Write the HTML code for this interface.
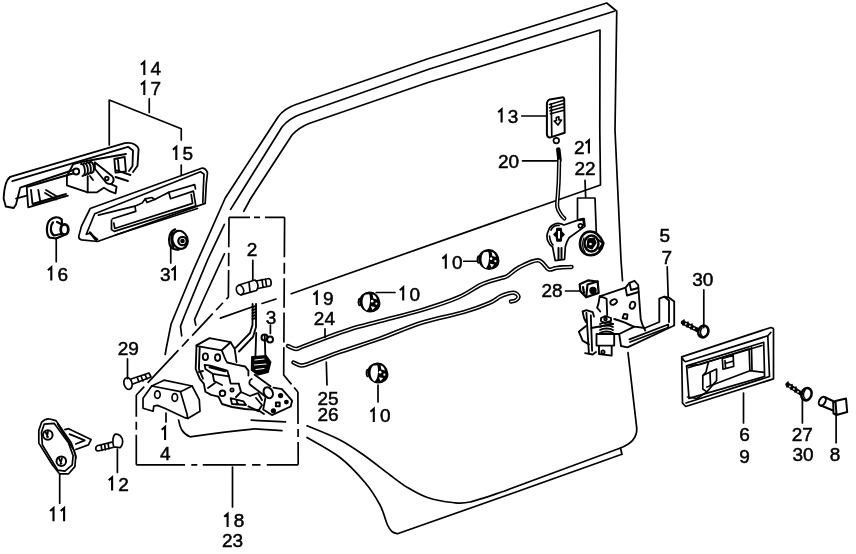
<!DOCTYPE html>
<html><head><meta charset="utf-8">
<style>
html,body{margin:0;padding:0;background:#fff;width:856px;height:554px;overflow:hidden}
svg{display:block;filter:grayscale(1)}
text{font-family:"Liberation Sans",sans-serif;font-size:19px;fill:#000;stroke:#000;stroke-width:0.5;text-anchor:middle}
</style></head>
<body>
<svg width="856" height="554" viewBox="0 0 856 554">
<rect width="856" height="554" fill="#fff"/>
<g fill="none" stroke="#000" stroke-width="1.7" stroke-linecap="round" stroke-linejoin="round">
<!-- door outer frame -->
<path d="M165.2,354.5 L166.4,347.5 L171.1,324 L193.4,270 L225.25,198 L278,117 Q284,108.5 296,104.5 L428,58.75 L606.75,3 L616.75,11.25 L615,130 L621,260 L622.5,280.8"/>
<path d="M628,352.7 L636.8,428.6 Q637,442 620.5,448 L621.9,454.3"/>
<!-- frame line 2 -->
<path d="M230.6,209.4 L237.75,198 L282,127 Q289,118.5 300,114.5 L428,69.5 L614.25,11.25"/>
<path d="M224.4,224.4 L208,259 L200,278.2 L184,317 L180.5,326.4 L181.7,335.8"/>
<!-- window inner -->
<path d="M243.75,211.25 L251,198 L292,135 Q299,127.5 309,123.5 L428,82.5 L600,30 L599.8,130 L600.5,185 L540,206.2 L291.25,293.75"/>
<path d="M224.4,253.8 L203.2,300 L194.6,319.3 L195.8,325.2"/>
<path d="M220.4,318.1 L252,307 M262,303.5 L276,299"/>
<!-- lower panel curves -->
<path d="M178.6,420.2 C180,428 182,433 190,436.8 C210,434 228,431.5 254.9,428.9 L282,430.7 M251.3,420.2 L285.5,421.9"/>
<path d="M307.0,425.8 C312.5,428.1 330.3,435.0 340.0,440.0 C349.7,445.0 356.7,450.2 365.0,456.0 C373.3,461.8 382.9,469.8 390.0,475.0 C397.1,480.2 401.2,483.8 407.5,487.5 C413.8,491.2 420.0,495.0 427.5,497.5 C435.0,500.0 445.4,501.8 452.5,502.5 C459.6,503.2 461.4,503.9 470.0,502.0 C478.6,500.1 498.3,493.0 504.0,491.2 L620.5,448"/>
<path d="M307.0,437.5 C312.5,440.8 330.3,450.0 340.0,457.5 C349.7,465.0 358.3,474.6 365.0,482.5 C371.7,490.4 376.2,497.9 380.0,505.0 C383.8,512.1 385.5,520.6 387.5,525.0 C389.5,529.4 390.3,530.0 392.0,531.5 C393.7,533.0 396.6,533.4 397.5,533.8 L504,496.25 L621.9,454.3"/>
<!-- dashed box -->
<path stroke-linecap="butt" stroke-dasharray="21,4,6,5,100" d="M229,217.3 L284.6,217.3"/>
<path stroke-linecap="butt" stroke-dasharray="40,5.5,11,4.4,29.6,4.8,30,4.6,40,4,100,0" d="M284.6,217.3 L283.7,375 L297.9,392"/>
<path stroke-linecap="butt" stroke-dasharray="32,5,8,5,60" d="M297.9,392 L298.2,464.8"/>
<path stroke-linecap="butt" stroke-dasharray="48.7,6.3,6,5.5,43,6.3,8.4,6.3,40" d="M136.3,464.8 L298.2,464.8"/>
<path stroke-linecap="butt" stroke-dasharray="30,5,8,5,40" d="M136.3,464.8 L136.3,395"/>
<path stroke-linecap="butt" stroke-dasharray="30,5.4,13.6,3.6,30,5,10,5,30,5,10,5,45,5,100,0" d="M229,217.3 L228.4,297 L136.3,395"/>
<!-- handle 14 -->
<g id="h14" stroke-width="1.85">
<path d="M10.1,176.9 L124.7,143.2 C131,142.3 136,143 138.6,149 L137.5,165.7 L133,172"/>
<path d="M10.1,176.9 C6,180 4,190 3.6,198.6 L5.8,206.5 L13.7,208 L16,204.4 L20.2,187.7 L73.3,170"/>
<path d="M12.3,181.2 L128,146.8 L133,150.5 L132.5,166 L129,171"/>
<path d="M26.7,187 L28.2,207.3 L67.9,195.7 M31,190 L32.5,204 L66,194 M26.7,187 L73,173.5"/>
<path d="M38.3,190 L40.5,203"/>
<path d="M16,198.6 L26.7,195.7 M46,190 L57,196.5 M45,193 L56,199.5"/>
<path d="M73.3,164 L80.8,162 L95,159.5 L114.3,156 L126,154 M73.3,164 L66.9,176.2 L66.9,185.4 L87.7,192.3 L97,192.3 L103.9,187.7 L109.7,191.2 L115.5,193.5 L116.6,186.6 L110.9,184.2"/>
<path d="M81,164 C85,163 86.5,175 82.5,176 M84,163.3 C88,162.5 89.5,174 85.5,175 M87,162.5 C91,162 92.5,173 88.5,174 M90,162 C94,161.5 95.5,172 91.5,173" stroke-width="1.9"/>
<circle cx="76.2" cy="171.5" r="3"/>
<path d="M94.7,162.3 L112,176 C116,181 111,187 106,182.5 L95,169 Z"/>
<circle cx="106.8" cy="178.5" r="1.8"/>
<path d="M114.3,158.8 L124.7,157 L125.9,171.5 L115.5,172.7 Z M118,160 L119,171"/>
<path d="M116.6,170.4 L130.5,175 M115.5,177 L128,181"/>
<path d="M87.7,176.2 L87.7,192.3 M90,176 L93,180"/>
</g>
<!-- handle 15 -->
<g id="h15">
<path d="M90.2,208.5 L201.6,168.2 C204,168 206.5,170 207.5,172.9 L206.3,183.5 L205.2,203.4 L97.5,241.5 L81.6,239.9 C79,239 78.5,237.5 78.8,236.1 L81.6,225.8 Z"/>
<path d="M86.3,234.3 L94.7,213.7 L200.5,171.7 L204,174.1 L203.4,187 L202.8,202.5 M86.3,234.3 L90,233.3 L97.5,239.5"/>
<path d="M90,232.5 L96,240" stroke-width="2.5"/>
<path d="M98.4,215.1 L134.9,206.2 L135.8,211.4 L112.4,218.8"/>
<path d="M111.5,220.2 L111.5,229.6 L114.3,231.4 L195.8,205.8 L193.4,191.1 L170.5,198.7 L168.8,192.3"/>
<path d="M113.8,223 L114.8,228.5 L192.6,203.4 L191.2,194.5"/>
<path d="M115.5,235 L197.5,208.5"/>
<path d="M134.9,206.2 L142.2,203 L145.3,198.8 L151.6,197.5 L154.7,199.5 L168.8,192.3 L194.6,184.6 L195.5,189"/>
<path d="M145.3,198.8 L147,202.5 L154.7,199.5"/>
</g>
<!-- clip 16 -->
<g id="c16" stroke-width="2.2">
<path d="M49.5,237.5 C46,234 46,224 50,220 C53,217 58,216 61.7,219.4 L62,223 M49.5,237.5 L56,238.5 L63.9,235.3"/>
<path d="M53,222.3 C50,226 50,233 54,235.5 L61,234"/>
<ellipse cx="64.5" cy="229.5" rx="3.8" ry="5.2" stroke-width="2.8"/>
<path d="M57,222 L62,224.5"/>
</g>
<!-- nut 31 -->
<g id="n31" stroke-width="2.2">
<path d="M175.2,229.4 C170,231 168,238 169.5,244 C170.5,248 174,250 178.8,249.6"/>
<path d="M172.5,233 C171,237 171.5,243 173.5,247"/>
<ellipse cx="180" cy="239.8" rx="7.5" ry="9.2" transform="rotate(-20 180 239.8)"/>
<circle cx="182.5" cy="241" r="4.2"/>
<circle cx="182.5" cy="241" r="1.2"/>
</g>
<!-- latch mechanism 18/23 -->
<g id="latch" stroke-width="1.85">
<path d="M196.5,345.4 L209.5,338.1 L230.6,342.2 L234.6,348.7 L235.5,354.4 L236.5,362"/>
<path d="M197.3,346.2 L221.7,350.3 L230.6,342.2 M221.7,350.3 C224,355 225,360 227.3,362.5 L237.1,364.9 L245.2,366.5 L248.4,370.6 L248.4,375.5"/>
<path d="M196.5,345.4 L195.7,369 L199.7,378.7 L203.8,383.6 L205.4,391.7 L211.1,394.9 L218.4,396.6"/>
<path d="M199.7,347.9 L198.9,369 L203,378.7"/>
<ellipse cx="205.4" cy="356.8" rx="2.6" ry="3.4"/>
<ellipse cx="217.6" cy="357.6" rx="2.6" ry="3.4"/>
<path d="M204.6,364.9 L210.3,365.7 L227.3,370.6 L229,376.3 L212.7,373.8 L205.4,369 Z M209.5,367.3 L224.9,371.4"/>
<path d="M229,376.3 L230.6,383.6 L238.7,383.6 M212.7,373.8 L214,381 L222,385"/>
<path d="M235.5,347.9 L250,333 L252.5,325 L252.6,304 M239,351.5 L253,337 L256,327 L256,304"/>
<path d="M252.5,307 L256,306 M252.5,310 L256,309 M252.5,313 L256,312 M252.5,316 L256,315 M252.5,319 L256,318"/>
<path d="M256.2,333 L255.3,360.2 M264.7,336 L265.4,357.3"/>
<circle cx="264.5" cy="337.5" r="3" stroke-width="2"/>
<circle cx="270" cy="339.5" r="3" stroke-width="2"/>
<path d="M252,357 L266,355.9 L270.5,362 L268,372 L258,374.7 L251.7,370 Z" fill="#000"/>
<path d="M255,360 L264,359 M254.5,365 L266,364 M256,369.5 L264,368.5" stroke="#fff" stroke-width="1.2"/>
<path d="M254.6,374.7 L270.5,386.2 M250.2,384.8 L265.4,396.4 M251.7,379 C249,380 249,384 250.2,384.8"/>
<ellipse cx="268.3" cy="392.7" rx="4.3" ry="5.8" transform="rotate(-30 268.3 392.7)" stroke-width="2"/>
<path d="M273.4,387.7 L282,389.1 L292.1,400.7 L290.7,406.5 L271.9,415.1 L263.2,409.4 L265.4,398"/>
<circle cx="280.6" cy="395.6" r="1.7" fill="#000"/><circle cx="286.4" cy="402.1" r="1.5" fill="#000"/><circle cx="273.4" cy="410.8" r="1.7" fill="#000"/>
<rect x="275.9" y="402.5" width="3.8" height="3.8" stroke-width="2"/>
<circle cx="222.5" cy="393.3" r="2.8"/>
<path d="M218.4,396.6 L222,404 L232,407 L245,409 L258,410 L264,414"/>
<path d="M230.6,398.2 L243.6,401.4 L246,405 L232,404 Z M236,399.5 L238,404.5"/>
<path d="M238.7,383.6 L241,392 L250,396 L258,393 L262,400 M241,392 L236,397"/>
<path d="M248.4,406.3 L258.2,411.2 L262,405 L256,398"/>
<circle cx="232" cy="390" r="1.6"/>
<path d="M208,388 L215,383 M199,372 L203,371"/>
</g>
<!-- block 1/4 -->
<g id="blk">
<path d="M151.7,386 L164,380.2 L192.1,386 L180.5,391.7 Z"/>
<path d="M151.7,386 L143,398.2 L143,408.3 L153.1,411.2 L153.8,406.2 L157.4,405.4 L164.7,408.3 L184.9,417.7 L187.8,418.4 L200,411.2 L199.3,399.7 L192.1,386"/>
<path d="M180.5,391.7 L187,414.1 L187.8,418.4"/>
<ellipse cx="157.4" cy="394.6" rx="2.8" ry="3.8"/>
<ellipse cx="174.8" cy="397.5" rx="2.8" ry="3.8"/>
</g>
<!-- screw 29 -->
<g id="s29">
<ellipse cx="128" cy="383.5" rx="4" ry="6" transform="rotate(-15 128 383.5)"/>
<path d="M131,379 L149,373 L151,377 L133,384 M137,377 L139,382 M141,376 L143,381 M145,374.5 L147,379"/>
</g>
<!-- striker 11 -->
<g id="st11">
<path d="M41.5,422.4 C44,419.5 46,418.8 48.7,418.8 L55.9,420.6 L71.3,443.1 L75.8,455.8 L74.9,466.6 L68.6,473.8 L59.5,473.8 L52.3,464.8 L38.8,443.1 L38.8,430.5 Z"/>
<path d="M44.2,424.2 L54.1,423.3 L68.6,443.1 L73.1,455.8 L72.2,464.8 L64.9,471.1 L57.7,470.2 L42.4,445 L41.5,432.3 Z"/>
<path d="M57.7,424.2 L74,450.4 L76,458"/>
<circle cx="47.8" cy="435" r="4.8" stroke-width="2"/>
<path d="M45.5,432 L48,437 M48,431.5 L47,437"/>
<circle cx="61.3" cy="461.2" r="4.8" stroke-width="2"/>
<path d="M59,458.5 L61.5,463.5 M62,458 L60.5,464"/>
<path d="M64.9,429.6 L68.6,428.7 L91.1,439.5 L88.4,444.9 L75.8,449.5 M69.5,434.1 L84.8,440.4 L75.8,444"/>
</g>
<!-- bolt 12 -->
<g id="b12">
<path d="M113.7,446.8 C112,442 113,435 115.5,434.1 C119,433.5 122.5,437 122.7,441.3 C122.5,444.5 121,447 120,447.7 Z"/>
<path d="M112,442.2 L98,445.5 C95,446.5 95,450.5 98,451 L113,447.5 M101,444.8 L102,450.5 M104.5,444 L105.5,449.8 M108,443.2 L109,449"/>
</g>
<!-- bolt 2 -->
<g id="b2" transform="translate(-1,2.5)">
<ellipse cx="241" cy="287.5" rx="3.5" ry="4.8" transform="rotate(-20 241 287.5)"/>
<path d="M240,282.5 L256,277.5 C259,279 260,285 257.5,288 L242,292.4"/>
<path d="M257,278.5 L270,276 C272.5,277 273,282 271,283.5 L259,286 M263,277 L264,284.5 M266.5,276.5 L267.5,283.5"/>
<path d="M250,280 L251,289"/>
</g>
<!-- rods 19/24 and 25/26 -->
<path d="M288.0,346.0 C289.3,346.5 293.5,348.9 296.0,349.0 C298.5,349.1 297.8,348.4 303.0,346.5 C308.2,344.6 319.2,340.4 327.0,337.5 C334.8,334.6 341.2,332.0 350.0,329.3 C358.8,326.6 368.0,324.4 380.0,321.2 C392.0,318.0 408.9,314.0 422.0,310.0 C435.1,306.0 448.7,301.5 458.5,297.3 C468.3,293.1 474.1,287.9 481.0,284.7 C487.9,281.5 495.7,279.8 500.0,278.4 C504.3,277.0 503.8,278.0 507.0,276.2 C510.2,274.4 514.1,269.9 519.3,267.3 C524.5,264.7 533.1,260.0 538.0,260.3 C542.9,260.6 545.7,268.0 548.5,269.3 C551.3,270.6 552.8,268.5 555.0,268.2 C557.2,267.9 559.2,267.5 562.0,267.3 C564.8,267.1 569.9,267.1 571.5,267.0" stroke-width="4.4"/>
<path d="M288.0,346.0 C289.3,346.5 293.5,348.9 296.0,349.0 C298.5,349.1 297.8,348.4 303.0,346.5 C308.2,344.6 319.2,340.4 327.0,337.5 C334.8,334.6 341.2,332.0 350.0,329.3 C358.8,326.6 368.0,324.4 380.0,321.2 C392.0,318.0 408.9,314.0 422.0,310.0 C435.1,306.0 448.7,301.5 458.5,297.3 C468.3,293.1 474.1,287.9 481.0,284.7 C487.9,281.5 495.7,279.8 500.0,278.4 C504.3,277.0 503.8,278.0 507.0,276.2 C510.2,274.4 514.1,269.9 519.3,267.3 C524.5,264.7 533.1,260.0 538.0,260.3 C542.9,260.6 545.7,268.0 548.5,269.3 C551.3,270.6 552.8,268.5 555.0,268.2 C557.2,267.9 559.2,267.5 562.0,267.3 C564.8,267.1 569.9,267.1 571.5,267.0" stroke="#fff" stroke-width="1.3"/>
<path d="M293.5,362.5 C294.8,363.0 298.4,365.3 301.0,365.5 C303.6,365.7 303.0,365.7 309.2,363.5 C315.4,361.3 326.6,356.7 338.4,352.5 C350.2,348.3 366.1,343.5 380.0,338.5 C393.9,333.5 408.0,327.0 422.0,322.6 C436.0,318.2 452.9,315.3 464.1,312.0 C475.3,308.7 483.4,305.6 489.4,303.0 C495.4,300.4 496.9,298.2 500.0,296.6 C503.1,295.0 505.6,294.2 508.0,293.6 C510.4,293.0 512.8,292.3 514.5,292.8 C516.2,293.3 518.3,295.2 518.5,296.5 C518.7,297.8 516.8,299.7 515.5,300.5 C514.2,301.3 511.8,301.3 511.0,301.5" stroke-width="4.4"/>
<path d="M293.5,362.5 C294.8,363.0 298.4,365.3 301.0,365.5 C303.6,365.7 303.0,365.7 309.2,363.5 C315.4,361.3 326.6,356.7 338.4,352.5 C350.2,348.3 366.1,343.5 380.0,338.5 C393.9,333.5 408.0,327.0 422.0,322.6 C436.0,318.2 452.9,315.3 464.1,312.0 C475.3,308.7 483.4,305.6 489.4,303.0 C495.4,300.4 496.9,298.2 500.0,296.6 C503.1,295.0 505.6,294.2 508.0,293.6 C510.4,293.0 512.8,292.3 514.5,292.8 C516.2,293.3 518.3,295.2 518.5,296.5 C518.7,297.8 516.8,299.7 515.5,300.5 C514.2,301.3 511.8,301.3 511.0,301.5" stroke="#fff" stroke-width="1.3"/>
<!-- clips 10 -->
<g id="c10a" transform="translate(370,302) scale(0.85)"><g>
<path d="M-12,0 C-12,-7 -7,-11 -1,-11.5 C6,-12 11,-6 11.5,1 C12,7 7,11.5 0,11.5 C-6,11.5 -11,7 -12,0 Z" fill="#000" stroke-width="1.5"/>
<path d="M-6,-8.5 C-10,-4 -10,6 -4,10 C0,8 1,-5 -1,-9 Z" fill="#fff" stroke="none"/>
<path d="M3,-9 C6,-8 8,-5 8,-3 L4,-4 Z" fill="#fff" stroke="none"/>
<circle cx="2.5" cy="-1" r="1.6" fill="#fff" stroke="none"/>
<circle cx="7.5" cy="2" r="1.3" fill="#fff" stroke="none"/>
<path d="M1,5 L6,6 L3,9.5 Z" fill="#fff" stroke="none"/>
<path d="M-12.5,-4 C-14,-2 -14,2 -12.5,4" stroke-width="2"/>
</g></g>
<g transform="translate(489,259.5) scale(0.85)">
<path d="M-12,0 C-12,-7 -7,-11 -1,-11.5 C6,-12 11,-6 11.5,1 C12,7 7,11.5 0,11.5 C-6,11.5 -11,7 -12,0 Z" fill="#000" stroke-width="1.5"/>
<path d="M-6,-8.5 C-10,-4 -10,6 -4,10 C0,8 1,-5 -1,-9 Z" fill="#fff" stroke="none"/>
<path d="M3,-9 C6,-8 8,-5 8,-3 L4,-4 Z" fill="#fff" stroke="none"/>
<circle cx="2.5" cy="-1" r="1.6" fill="#fff" stroke="none"/>
<circle cx="7.5" cy="2" r="1.3" fill="#fff" stroke="none"/>
<path d="M1,5 L6,6 L3,9.5 Z" fill="#fff" stroke="none"/>
<path d="M-12.5,-4 C-14,-2 -14,2 -12.5,4" stroke-width="2"/>
</g>
<g transform="translate(378,373) scale(0.85)">
<path d="M-12,0 C-12,-7 -7,-11 -1,-11.5 C6,-12 11,-6 11.5,1 C12,7 7,11.5 0,11.5 C-6,11.5 -11,7 -12,0 Z" fill="#000" stroke-width="1.5"/>
<path d="M-6,-8.5 C-10,-4 -10,6 -4,10 C0,8 1,-5 -1,-9 Z" fill="#fff" stroke="none"/>
<path d="M3,-9 C6,-8 8,-5 8,-3 L4,-4 Z" fill="#fff" stroke="none"/>
<circle cx="2.5" cy="-1" r="1.6" fill="#fff" stroke="none"/>
<circle cx="7.5" cy="2" r="1.3" fill="#fff" stroke="none"/>
<path d="M1,5 L6,6 L3,9.5 Z" fill="#fff" stroke="none"/>
<path d="M-12.5,-4 C-14,-2 -14,2 -12.5,4" stroke-width="2"/>
</g>
<!-- knob 13 -->
<g id="k13">
<path d="M546.9,102.9 C547.5,100.5 548.5,99.8 549.8,99.4 L561.7,97.4 C563,97.2 564,97.8 564.2,98.9 L564.7,132.7 L549.8,137.6 C548,137.5 547,136 546.9,133.7 Z" stroke-width="2"/>
<path d="M551.3,103.9 L551.8,136.6"/>
<path d="M549.5,104.5 L563,100.5 M549.5,107.8 L563.5,103.8 M550,110.8 L563.8,107 M550.5,113.8 L564,110.3"/>
<path d="M556.3,117.5 L558.8,116.8 L559,120 L561.5,120 L558,125 L554.2,121 L556.5,120.5 Z"/>
<circle cx="556.3" cy="140.6" r="2.8"/>
</g>
<!-- rod 20 -->
<path d="M558.3,149.5 L559.5,160" stroke-width="4.5"/>
<path d="M559.2,160.0 C559.1,163.4 558.9,175.1 558.7,180.7 C558.5,186.3 558.1,189.3 557.9,193.7 C557.7,198.1 556.8,203.5 557.3,207.0 C557.8,210.5 559.9,212.9 561.1,214.8 C562.3,216.7 563.9,217.9 564.4,218.5" stroke-width="4.2"/>
<path d="M559.2,160.0 C559.1,163.4 558.9,175.1 558.7,180.7 C558.5,186.3 558.1,189.3 557.9,193.7 C557.7,198.1 556.8,203.5 557.3,207.0 C557.8,210.5 559.9,212.9 561.1,214.8 C562.3,216.7 563.9,217.9 564.4,218.5" stroke="#fff" stroke-width="1.2"/>
<!-- bellcrank 21/22 -->
<g id="bc">
<path d="M549.5,228 C553,223 559,222 564,225 L577.9,220.1 L584.2,218.8 L584.9,226.4 L569.1,237.8 C567,241 566,244 565.3,247 L564.6,259.3 L555.2,260.6 L552.6,247 C548,244 546,238 547.5,233 Z"/>
<path d="M551,230 C553,226 556,225 559,225.5 M549.5,236 C550,240 551,243 553,245" />
<path d="M557,228.5 L561,228.5 L561.5,232 L564,234.5 L561.5,237 L561,241 L557,241 L556.5,237 L554,234.5 L556.5,232 Z" fill="#000"/>
<path d="M558,231 L560,231 L560,238.5 L558,238.5 Z" fill="#fff" stroke="none"/>
<circle cx="580.4" cy="225.8" r="2"/>
<path d="M558.5,248 L558.5,259.5 M561.5,248 L561.5,259" stroke-width="2"/>
<path d="M579,220 L583.5,219 L584,225" stroke-width="2.4"/>
</g>
<g id="nut22">
<path d="M580,244 C580,236 585,231.5 590,231.5 C597,231.5 601,237 603.4,243.3 C602,250 597,255.3 590.8,255.3 C584,255.3 580,250 580,244 Z" stroke-width="2.6"/>
<path d="M584,238 C582,242 582,248 585,252" stroke-width="1.3"/>
<ellipse cx="591.5" cy="243.5" rx="7" ry="8" stroke-width="2.4"/>
<path d="M588,239 L594,238 L596,243 L592,249 L587,247 Z" fill="#000" stroke-width="1.2"/>
<circle cx="590.5" cy="244" r="1.3" fill="#fff" stroke="none"/>
<path d="M598.5,240 L603,243.3 L599,249" stroke-width="2"/>
</g>
<!-- nut 28 -->
<g id="n28" stroke-width="2.2">
<path d="M579.7,284.2 L587.9,280.4 L597.6,281.5 L598.7,292.9 L586.2,297.2 L580.3,291.2 Z"/>
<path d="M587.5,284.5 L597.6,281.5 M587.5,284.5 L586.2,297.2 M583,287 L584,293"/>
<circle cx="593" cy="290.5" r="2.6" fill="#000"/>
</g>
<!-- latch 5/7 -->
<g id="l57" stroke-width="1.85">
<path d="M599.7,296.3 L625.5,287.7 L629.5,282.8 L634.5,280.8 L638.2,285 L640.7,319 C642,325 644,328 645.2,330.5"/>
<path d="M629.5,282.8 L631,290 L638,288 M625.5,287.7 L627,295.5 L638.5,292"/>
<path d="M599.7,296.3 L604.1,297.6 L606.6,298.8 L607.2,315.3 M599.7,296.3 L598.4,303.9 L597.1,307.7 L600.3,311.5"/>
<ellipse cx="613.6" cy="302" rx="3.5" ry="2.4" transform="rotate(-30 613.6 302)"/>
<ellipse cx="632.5" cy="305.2" rx="2.6" ry="3.6" transform="rotate(20 632.5 305.2)"/>
<path d="M622.5,318 L624,314 L627.5,314.5 L627,319 Z"/>
<path d="M614.2,319 C618,320 622,321.5 625.6,322.9 C629,324.5 632,326 634.4,326.7 L645,328"/>
<path d="M659.3,298.7 L664.3,296.7 L669.2,297.7 L674.2,301.6 L674.2,325.5 L627.5,347.3 L621,346 L619.2,334 L634.4,326.7 M645,328 L659.3,322 L659.3,298.7"/>
<path d="M664.3,296.7 L669,300.5 L669,322 M629.4,339.4 L668.2,324.5 L668.2,327.5 L630,342"/>
<path d="M582.6,311.5 L586.4,310.2 L592.7,312.1 L594,316.5 M586.4,312.8 L588.9,353.2 M590.8,315.3 L592.1,350.7 M582.6,311.5 L584,318 L586,322"/>
<path d="M585.1,353.2 L592.7,354.5 L596,352 M578.8,331.7 L582.6,340.6 L588.9,344.4 M578.8,331.7 L586,326"/>
<path d="M601,318 L605.3,316 L611,318 L611,321 L605,323 L601,321 Z"/>
<circle cx="605.5" cy="319" r="1.3"/>
<path d="M600,324 C603,322 610,322 613,324 M600,327 C603,325 610,325 613,327 M600,330 C603,328 610,328 613,330 M600,333 C603,331 610,331 613,333"/>
<path d="M596.5,334 L614.2,334 L614.2,345.6 L596.5,345.6 Z M599,345.6 L599,354 L611.7,355.7 L611.7,345.6"/>
<path d="M591.4,328 L613,324 M614.2,334 L619.2,334"/>
<circle cx="603" cy="352" r="1.6"/>
</g>
<!-- screw 30 top -->
<g id="s30a">
<path d="M683,322.5 L697.5,330" stroke-width="4.5"/>
<circle cx="686" cy="324" r="0.9" fill="#fff" stroke="none"/><circle cx="690" cy="326.2" r="0.9" fill="#fff" stroke="none"/><circle cx="694" cy="328.3" r="0.9" fill="#fff" stroke="none"/>
<path d="M684,320 L683,325 M688,322 L687,327 M692,324 L691,329" stroke-width="1.6"/>
<ellipse cx="703.3" cy="331.5" rx="5" ry="6" transform="rotate(20 703.3 331.5)" stroke-width="2.6"/>
<path d="M702,328 C700,330.5 700,334 702,335.5" stroke-width="1.4"/>
</g>
<!-- inner handle 6/9 -->
<g id="ih">
<path d="M681.7,356.9 L770.2,327.7 C772,327.5 773.5,328 773.5,329.3 L773.5,378.9 L685.7,406.5 L682.5,403.2 Z"/>
<path d="M682.5,358.5 C683.5,360.5 684.5,361.5 685.4,361.8 L767.8,335.8 L770.8,332.5 M767.8,335.8 L769.5,376.5 L686,403"/>
<path d="M686.6,365.9 L763.7,342.3 L764.6,376.4 L689,398.4 Z"/>
<path d="M688.2,367.7 L762,345.5"/>
<path d="M708.5,361.8 L749.1,348.8 L749.9,370.7 M751.5,347.5 L752,370 M749.9,370.7 L706.9,387 M763.7,372.4 L749.9,370.7"/>
<path d="M686.6,365.9 L700,364.5 L708.5,361.8 L706,372 L702.8,375.6"/>
<path d="M722.3,358.5 L733.2,355.5 L733.7,366.5 L723,369.1 Z M725,360.5 L725.5,367.5 M725,363.5 L733.5,361"/>
<path d="M702.8,375.6 L716.6,369.1 L716.6,380.5 L706.9,391.9 L702.8,389 Z M710,372.5 L710.5,385"/>
<path d="M687.5,397 L697,398.5 L706.9,391.9"/>
</g>
<!-- screw 27/30 -->
<g id="s27">
<path d="M787.5,384.5 L801,393.5" stroke-width="4.5"/>
<circle cx="790" cy="386.5" r="0.9" fill="#fff" stroke="none"/><circle cx="794" cy="389" r="0.9" fill="#fff" stroke="none"/><circle cx="798" cy="391.8" r="0.9" fill="#fff" stroke="none"/>
<path d="M788,382 L787,387 M792,384.5 L791,389.5 M796,387 L795,392" stroke-width="1.6"/>
<ellipse cx="806.5" cy="394.2" rx="5" ry="6.3" transform="rotate(20 806.5 394.2)" stroke-width="2.6"/>
<path d="M805,390.5 C803,393 803,397 805,398.5" stroke-width="1.4"/>
</g>
<!-- button 8 -->
<g id="btn8" stroke-width="2">
<ellipse cx="822.3" cy="401.2" rx="3" ry="4.8" transform="rotate(30 822.3 401.2)"/>
<path d="M824.5,397 L834,401.5 M821,405.5 L833,410.5"/>
<path d="M835.5,401 L846,398.5 L847.2,412 L836.5,415 Z M833.2,402.5 L835.5,401 M833.2,402.5 L833.5,413.5 L836.5,415"/>
</g>
<!-- leaders -->
<path d="M109.25,145 L109.25,100 L181.25,128.75 L181.25,140 M149.25,98.75 L149.25,112.5 M181.25,165 L181.25,175"/>
<path d="M56.25,238 L56.25,261.75 M170.75,245.5 L170.75,263 M252.8,260.3 L252.8,279.8 M270.4,325.2 L270.4,333.4 M127.5,358.9 L127.5,378.7 M166,413 L166,422 M59.7,474.3 L59.7,503.2 M117.4,449 L117.4,472.5 M232.5,467 L232.5,507"/>
<path d="M325,328.75 L325,337.5 M326.3,362 L327,385 M376.25,292.5 L395,292.5 M378,385 L378,402 M463.75,261.25 L477.5,261.25 M521.8,116 L546.4,116 M522.5,160.8 L556.5,160.8"/>
<path d="M585,180.4 L585.7,198 M577.5,219 L577.5,198 L595,198 L596.3,233 M667.2,266.9 L668.2,296.7 M565.5,291 L580.7,291 M703.8,289.8 L703.8,327.6 M743.5,393.1 L743.5,423 M802.4,399.1 L802.4,423 M836.1,413 L836.1,442.8"/>
</g>
<g>
<text x="150.5" y="75.0"> 4</text>
<text x="150.5" y="95.0"> 7</text>
<text x="182.5" y="160.0"> 5</text>
<text x="57.5" y="280.5"> 6</text>
<text x="170.5" y="280.5">3 </text>
<text x="252.0" y="255.5">2</text>
<text x="271.0" y="324.0">3</text>
<text x="128.2" y="355.3">29</text>
<text x="166.0" y="440.0"> </text>
<text x="165.2" y="459.9">4</text>
<text x="59.7" y="521.2">  </text>
<text x="118.3" y="490.5"> 2</text>
<text x="233.75" y="527.0"> 8</text>
<text x="232.5" y="546.8">23</text>
<text x="323.0" y="305.0"> 9</text>
<text x="324.4" y="325.0">24</text>
<text x="328.0" y="404.5">25</text>
<text x="328.0" y="421.25">26</text>
<text x="409.4" y="300.5"> 0</text>
<text x="380.0" y="422.0"> 0</text>
<text x="452.0" y="268.75"> 0</text>
<text x="507.8" y="122.5"> 3</text>
<text x="508.5" y="168.0">20</text>
<text x="584.5" y="153.5">2 </text>
<text x="585.0" y="175.0">22</text>
<text x="664.8" y="241.5">5</text>
<text x="666.7" y="263.9">7</text>
<text x="552.0" y="297.4">28</text>
<text x="702.8" y="285.8">30</text>
<text x="744.5" y="440.8">6</text>
<text x="744.5" y="462.7">9</text>
<text x="802.2" y="440.8">27</text>
<text x="803.0" y="460.7">30</text>
<text x="835.0" y="460.7">8</text>
<path fill="none" stroke="#000" stroke-width="2.1" stroke-linecap="butt" stroke-linejoin="miter" d="M140.9,64.8 L144.3,61.8 L144.3,75.0 M140.9,84.8 L144.3,81.8 L144.3,95.0 M172.9,149.8 L176.3,146.8 L176.3,160.0 M47.9,270.3 L51.3,267.3 L51.3,280.5 M171.5,270.3 L174.9,267.3 L174.9,280.5 M161.7,429.8 L165.1,426.8 L165.1,440.0 M50.1,511.0 L53.5,508.0 L53.5,521.2 M60.7,511.0 L64.1,508.0 L64.1,521.2 M108.7,480.3 L112.1,477.3 L112.1,490.5 M224.2,516.8 L227.6,513.8 L227.6,527.0 M313.4,294.8 L316.8,291.8 L316.8,305.0 M399.8,290.3 L403.2,287.3 L403.2,300.5 M370.4,411.8 L373.8,408.8 L373.8,422.0 M442.4,258.6 L445.8,255.6 L445.8,268.8 M498.2,112.3 L501.6,109.3 L501.6,122.5 M585.5,143.3 L588.9,140.3 L588.9,153.5"/>
</g>
</svg>
</body></html>
